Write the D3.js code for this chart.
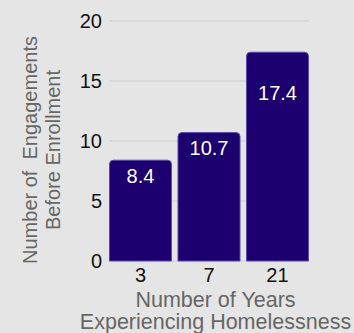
<!DOCTYPE html>
<html>
<head>
<meta charset="utf-8">
<script src="https://cdn.jsdelivr.net/npm/d3@7"></script>
<style>
  body { margin: 0; background: #e5e5e5; }
  svg { display: block; font-family: "Liberation Sans", Arial, sans-serif; }
</style>
</head>
<body>
<div id="chart"></div>
<script>
// chart data
var years = ["3", "7", "21"];
var engagements = [8.4, 10.7, 17.4];
var yTicks = [0, 5, 10, 15, 20];

var svgWidth = 354;
var svgHeight = 333;

var margin = { top: 21, right: 45, bottom: 72, left: 109 };
var width = svgWidth - margin.left - margin.right;
var height = svgHeight - margin.top - margin.bottom;

var svg = d3.select("#chart")
  .append("svg")
  .attr("width", svgWidth)
  .attr("height", svgHeight);

svg.append("rect")
  .attr("width", svgWidth)
  .attr("height", svgHeight)
  .attr("fill", "#e5e5e5");

var chartGroup = svg.append("g")
  .attr("transform", `translate(${margin.left}, ${margin.top})`);

// scales
var xScale = d3.scaleBand()
  .domain(years)
  .range([0, width])
  .paddingInner(0.08)
  .paddingOuter(0);

var yScale = d3.scaleLinear()
  .domain([0, 20])
  .range([height, 0]);

// gridlines
chartGroup.append("g")
  .selectAll("line")
  .data(yTicks)
  .enter()
  .append("line")
  .attr("x1", 0)
  .attr("x2", width)
  .attr("y1", d => yScale(d))
  .attr("y2", d => yScale(d))
  .attr("stroke", "#cdcdcd")
  .attr("stroke-width", 1);

// y axis
var leftAxis = d3.axisLeft(yScale).tickValues(yTicks).tickSize(0).tickPadding(7);
var yAxis = chartGroup.append("g").call(leftAxis);
yAxis.select(".domain").remove();
yAxis.selectAll("text")
  .attr("font-size", 20)
  .attr("fill", "#111")
  .attr("font-family", "Liberation Sans, Arial, sans-serif");

// x axis
var bottomAxis = d3.axisBottom(xScale).tickSize(0).tickPadding(7);
var xAxis = chartGroup.append("g")
  .attr("transform", `translate(0, ${height})`)
  .call(bottomAxis);
xAxis.select(".domain").remove();
xAxis.selectAll("text")
  .attr("font-size", 20)
  .attr("fill", "#111")
  .attr("font-family", "Liberation Sans, Arial, sans-serif");

// bars with rounded top corners
function barPath(x, y, w, h, r) {
  return `M${x},${y + h}V${y + r}Q${x},${y} ${x + r},${y}H${x + w - r}Q${x + w},${y} ${x + w},${y + r}V${y + h}Z`;
}

chartGroup.selectAll(".bar")
  .data(engagements)
  .enter()
  .append("path")
  .attr("class", "bar")
  .attr("d", (d, i) => barPath(xScale(years[i]) + 0.5, yScale(d), xScale.bandwidth() - 1, height - yScale(d), 4))
  .attr("fill", "#1c0070")
  .attr("stroke", "#5b4ca6")
  .attr("stroke-width", 1);

// value labels inside bars
chartGroup.selectAll(".val")
  .data(engagements)
  .enter()
  .append("text")
  .attr("class", "val")
  .attr("x", (d, i) => xScale(years[i]) + xScale.bandwidth() / 2)
  .attr("y", d => Math.max(yScale(d) + 8, yScale(15) + 4) + 14.5)
  .attr("text-anchor", "middle")
  .attr("font-size", 20)
  .attr("fill", "#ffffff")
  .text(d => d.toFixed(1));

// y axis title
var yTitle = svg.append("text")
  .attr("transform", "translate(0, 150) rotate(-90)")
  .attr("text-anchor", "middle")
  .attr("font-size", 20)
  .attr("fill", "#666");
yTitle.append("tspan").attr("x", 0).attr("y", 37).attr("xml:space", "preserve").text("Number of  Engagements");
yTitle.append("tspan").attr("x", 0).attr("y", 60).text("Before Enrollment");

// x axis title
var xTitle = svg.append("text")
  .attr("text-anchor", "middle")
  .attr("font-size", 21.5)
  .attr("fill", "#666");
xTitle.append("tspan").attr("x", 215.5).attr("y", 307).text("Number of Years");
xTitle.append("tspan").attr("x", 215.5).attr("y", 329).text("Experiencing Homelessness");
</script>
</body>
</html>
